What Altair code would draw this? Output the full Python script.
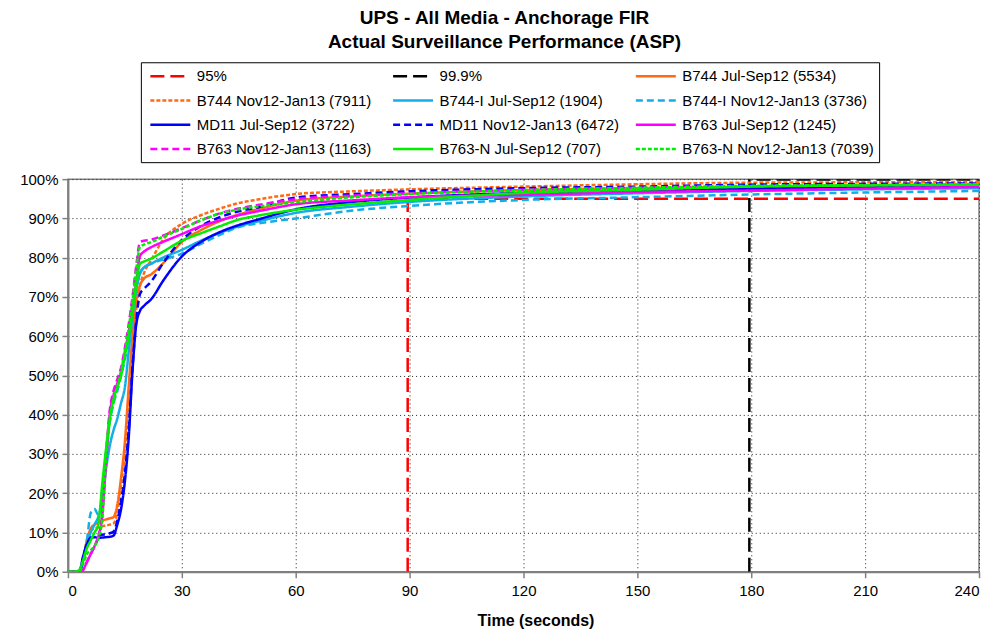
import altair as alt
import pandas as pd

# time grid (seconds)
T = [0, 2, 3, 4, 5, 6, 7, 8, 9, 10, 11, 12, 13, 14, 15, 16, 17, 18, 19, 20,
     22, 25, 30, 35, 40, 45, 50, 60, 75, 90, 120, 150, 180, 210, 240]

B744_JUL = [0, 0, 0, 3, 8, 11, 12, 12.5, 13, 13.3, 13.6, 13.9, 17, 24, 33, 47, 60, 69, 73, 74.6,
            75.8, 78.5, 84, 87, 89.3, 91, 92.3, 94.5, 95.6, 96.3, 97.2, 97.7, 98.1, 98.4, 98.6]
B744_NOV = [0, 0, 0, 3, 8, 10.5, 11, 11.3, 11.6, 11.8, 12, 12.3, 15, 22, 30, 42, 56, 67, 73, 76,
            79.5, 84.5, 88.6, 90.8, 92.5, 93.9, 94.8, 96.2, 96.9, 97.4, 98.1, 98.7, 99.1, 99.2, 99.3]
B744I_JUL = [0, 0, 0, 3, 7, 10, 12, 14, 18, 26, 32, 36, 39, 43, 47, 56, 65, 72, 76, 77.5,
             78.5, 80, 82, 84.3, 86.3, 88, 89.2, 91.4, 93, 94.2, 95.6, 96.4, 97, 97.4, 97.7]
B744I_NOV = [0, 0, 0, 3, 8, 15, 16, 14.5, 19, 30, 38, 43, 46, 50, 54, 60, 66, 72, 76, 77.5,
             78.5, 79.5, 81, 83.5, 85.8, 87.8, 88.7, 90, 92, 93.2, 94.7, 95.4, 96.1, 96.6, 97]
MD11_JUL = [0, 0, 0, 4, 7, 8.7, 8.8, 8.6, 8.7, 8.8, 8.9, 9.2, 12, 16, 23, 34, 51, 63, 66.5, 67.7,
            69.5, 74, 80.3, 84, 86.5, 88.3, 89.7, 92.3, 94.2, 95.3, 96.5, 97.1, 97.6, 97.9, 98.2]
MD11_NOV = [0, 0, 0, 3.5, 7, 8.5, 9, 9.2, 9.4, 9.6, 9.8, 10.2, 13, 18, 25, 36, 52, 64, 70.8, 72,
            74, 78.5, 84.5, 88, 90.3, 91.8, 92.8, 95.3, 96.2, 96.9, 97.7, 98.1, 98.6, 98.8, 98.9]
B763_JUL = [0, 0, 0, 0.5, 2.5, 4.5, 6.5, 9, 14, 27, 40, 45, 48, 51, 56, 61, 67, 74, 80.5, 81.5,
            82.7, 84, 86, 88, 89.5, 90.8, 91.8, 93.6, 94.6, 95.4, 96, 96.7, 97.1, 97.6, 98]
B763_NOV = [0, 0, 0, 0.5, 2.5, 4.5, 6.5, 9, 14, 29, 41, 46, 49, 52, 57, 63, 70, 78, 84, 84.3,
            84.6, 85.6, 87.5, 89.5, 91.3, 92.5, 93.4, 94.9, 95.8, 96.4, 97.3, 97.8, 98.2, 98.4, 98.5]
B763N_JUL = [0, 0, 0.5, 3, 6, 8, 10, 12, 22, 31, 39, 44, 47, 50, 55, 60, 66, 73, 78.5, 79,
             79.8, 81.5, 84.3, 86.2, 88, 89.7, 90.7, 92.2, 93.6, 94.7, 96.5, 97.3, 98.1, 98.4, 98.6]
B763N_NOV = [0, 0, 0, 2, 4.5, 5.5, 6.5, 8.5, 13, 28, 38, 43, 47, 51, 56, 62, 69, 77, 82.8, 83.3,
             84, 85.3, 87.3, 89.5, 91.2, 92.3, 93, 94.1, 95.4, 96.2, 97.2, 97.8, 98.3, 98.5, 98.7]

# requirement lines
REQ95_T = [89.5, 89.5, 240]
REQ95_V = [0, 95, 95]
REQ999_T = [179.5, 179.5, 240]
REQ999_V = [0, 99.9, 99.9]

NAMES = ["95%", "99.9%", "B744 Jul-Sep12 (5534)", "B744 Nov12-Jan13 (7911)",
         "B744-I Jul-Sep12 (1904)", "B744-I Nov12-Jan13 (3736)",
         "MD11 Jul-Sep12 (3722)", "MD11 Nov12-Jan13 (6472)",
         "B763 Jul-Sep12 (1245)", "B763 Nov12-Jan13 (1163)",
         "B763-N Jul-Sep12 (707)", "B763-N Nov12-Jan13 (7039)"]
COLORS = ["#FF0000", "#000000", "#FF6A13", "#FF6A13", "#12AEEA", "#12AEEA",
          "#0000FF", "#0000FF", "#FF00FF", "#FF00FF", "#00EE00", "#00EE00"]
DASHES = [[14, 6], [14, 6], [1, 0], [4, 2], [1, 0], [7, 4],
          [1, 0], [7, 4], [1, 0], [7, 4], [1, 0], [4, 2]]
WIDTHS = [2.5, 2.5, 2, 2, 2, 3.5, 2, 3.5, 3.5, 3.5, 3.5, 2]

SERIES_VALUES = [B744_JUL, B744_NOV, B744I_JUL, B744I_NOV, MD11_JUL, MD11_NOV,
                 B763_JUL, B763_NOV, B763N_JUL, B763N_NOV]

rows = []
for name, vals in zip(NAMES[2:], SERIES_VALUES):
    for k, (t, v) in enumerate(zip(T, vals)):
        rows.append({"series": name, "t": t, "v": v, "k": k})
df = pd.DataFrame(rows)

req_rows = []
for name, ts, vs in [(NAMES[0], REQ95_T, REQ95_V), (NAMES[1], REQ999_T, REQ999_V)]:
    for k, (t, v) in enumerate(zip(ts, vs)):
        req_rows.append({"series": name, "t": t, "v": v, "k": k})
req = pd.DataFrame(req_rows)

FONT = "Liberation Sans"

legend = alt.Legend(
    title=None, orient="none", legendX=73, legendY=-117, columns=3, direction="horizontal",
    symbolType="M-0.6,0H4.73", symbolSize=225, labelFont=FONT, labelFontSize=15,
    labelColor="#000000", strokeColor="#000000", fillColor="#FFFFFF",
    padding=5, rowPadding=7.3, columnPadding=-10, gridAlign="all", labelOffset=33,
    labelLimit=400,
)

x_enc = alt.X("t:Q", scale=alt.Scale(domain=[0, 240], nice=False),
              axis=alt.Axis(values=list(range(0, 241, 30)), title="Time (seconds)", titleX=468))
y_enc = alt.Y("v:Q", scale=alt.Scale(domain=[0, 100], nice=False),
              axis=alt.Axis(values=list(range(0, 101, 10)), title=None,
                            labelExpr="datum.value + '%'", minExtent=60))
color_enc = alt.Color("series:N", scale=alt.Scale(domain=NAMES, range=COLORS), legend=legend)
dash_enc = alt.StrokeDash("series:N", scale=alt.Scale(domain=NAMES, range=DASHES), legend=legend)
width_enc = alt.StrokeWidth("series:N", scale=alt.Scale(domain=NAMES, range=WIDTHS), legend=legend)

req_layer = alt.Chart(req).mark_line(clip=True).encode(
    x=x_enc, y=y_enc, color=color_enc, strokeDash=dash_enc, strokeWidth=width_enc,
    order="k:Q")
data_layer = alt.Chart(df).mark_line(interpolate="monotone", clip=True).encode(
    x=x_enc, y=y_enc, color=color_enc, strokeDash=dash_enc, strokeWidth=width_enc,
    order="k:Q")

chart = alt.layer(req_layer, data_layer).properties(
    width=912, height=393,
    padding={"left": 0, "top": 0, "right": 10, "bottom": 0},
    title=alt.TitleParams(
        text=["UPS - All Media - Anchorage FIR", "Actual Surveillance Performance (ASP)"],
        font=FONT, fontSize=19, fontWeight="bold", color="#000000",
        anchor="middle", lineHeight=24, offset=10, dx=-19),
).configure_view(
    stroke="#808080", strokeWidth=1.5
).configure_axis(
    labelFont=FONT, labelFontSize=15, labelColor="#000000",
    titleFont=FONT, titleFontSize=16, titleFontWeight="bold", titleColor="#000000",
    domainColor="#808080", domainWidth=2, tickColor="#808080", tickSize=6, tickWidth=1.5,
    gridColor="#202020", gridDash=[1, 3], gridWidth=1, labelPadding=4,
).configure_axisX(
    titlePadding=14, labelPadding=6,
)

chart.save("out.html", embed_options={"renderer": "svg", "actions": False})
